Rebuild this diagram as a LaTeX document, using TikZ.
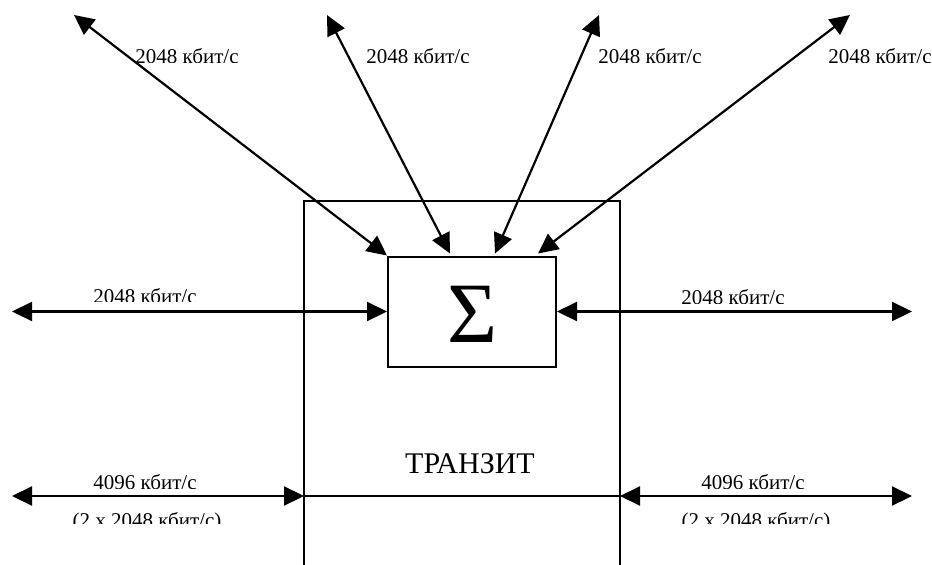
\documentclass[tikz,border=0pt]{standalone}
\usepackage{fontspec}
\setmainfont{Liberation Serif}
\usetikzlibrary{arrows.meta}
\begin{document}
\begin{tikzpicture}[x=1pt,y=-1pt,
  conn/.style={line width=2.2pt,{Triangle[length=20pt,width=19pt]}-{Triangle[length=20pt,width=19pt]}},
  plain/.style={line width=2.2pt},
  boxline/.style={line width=2pt},
  lbl/.style={font=\fontsize{21}{25}\selectfont,anchor=base,inner sep=0pt},
  big/.style={font=\fontsize{30}{35}\selectfont,anchor=base,inner sep=0pt}]
\useasboundingbox (0,0) rectangle (932,565);
\fill[white] (0,0) rectangle (932,565);
% outer transit box (open at the bottom)
\coordinate (obl) at (304,568);
\coordinate (otl) at (304,201);
\coordinate (otr) at (620,201);
\coordinate (obr) at (620,568);
\draw[boxline] (obl) -- (otl) -- (otr) -- (obr);
% summing box
\node[draw,boxline,minimum width=168pt,minimum height=110pt,inner sep=0pt] (sigma) at (472,311.5) {};
\node[font=\fontsize{86}{90}\selectfont,inner sep=0pt] (sum) at (473,314) {Σ};
\node[big] (tranzit) at (470,473) {ТРАНЗИТ};
% free ends
\coordinate (t1) at (74,15);
\coordinate (t2) at (327,15);
\coordinate (t3) at (599,15);
\coordinate (t4) at (850,15);
\coordinate (ml) at (12,311.5);
\coordinate (mr) at (912,311.5);
\coordinate (bl) at (12,496);
\coordinate (br) at (912,496);
\coordinate (bbl) at (304,496);
\coordinate (bbr) at (620,496);
% connectors
\draw[conn] (t1) -- (sigma.north west);
\draw[conn] (t2) -- ([xshift=-22pt,yshift=2pt]sigma.north);
\draw[conn] (t3) -- ([xshift=23pt,yshift=2pt]sigma.north);
\draw[conn] (t4) -- ([xshift=-19pt,yshift=2pt]sigma.north east);
\draw[conn] (ml) -- (sigma.west);
\draw[conn] (sigma.east) -- (mr);
\draw[conn] (bl) -- (bbl);
\draw[plain] (bbl) -- (bbr);
\draw[conn] (bbr) -- (br);
% labels (clipped at the bottom as in the original text boxes)
\begin{scope}
  \clip (0,0) rectangle (932,62);
  \node[lbl] (r1) at (187,63.5) {2048 кбит/с};
  \node[lbl] (r2) at (418,63.5) {2048 кбит/с};
  \node[lbl] (r3) at (650,63.5) {2048 кбит/с};
  \node[lbl] (r4) at (880,63.5) {2048 кбит/с};
\end{scope}
\begin{scope}
  \clip (0,270) rectangle (300,301.7);
  \node[lbl] (rml) at (145,303) {2048 кбит/с};
\end{scope}
\begin{scope}
  \clip (630,270) rectangle (932,303.3);
  \node[lbl] (rmr) at (733,304.5) {2048 кбит/с};
\end{scope}
\begin{scope}
  \clip (0,460) rectangle (932,488.3);
  \node[lbl] (rbl) at (145,489.5) {4096 кбит/с};
  \node[lbl] (rbr) at (753,489.5) {4096 кбит/с};
\end{scope}
\begin{scope}
  \clip (0,500) rectangle (932,523.3);
  \node[lbl] (rbl2) at (147,527.5) {(2 x 2048 кбит/с)};
  \node[lbl] (rbr2) at (756,527.5) {(2 x 2048 кбит/с)};
\end{scope}
\end{tikzpicture}
\end{document}
